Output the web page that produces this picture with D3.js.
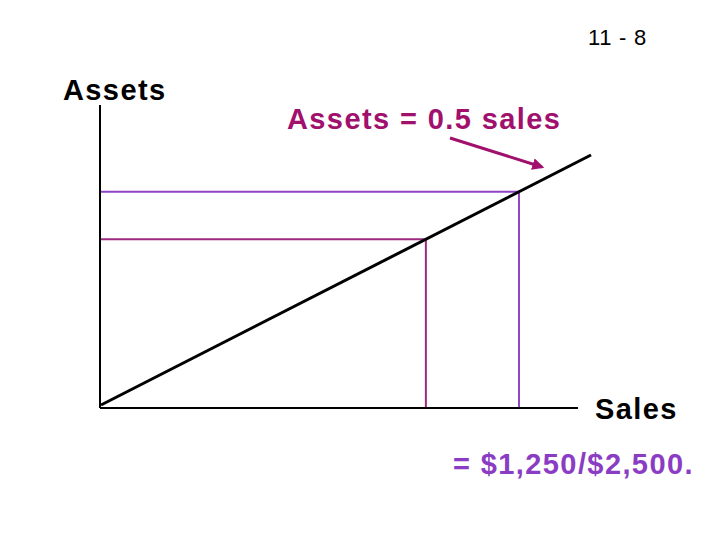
<!DOCTYPE html>
<html>
<head>
<meta charset="utf-8">
<script src="https://cdn.jsdelivr.net/npm/d3@7"></script>
<style>
  body { margin: 0; background: #fff; }
  text { font-family: "Liberation Sans", Arial, sans-serif; }
</style>
</head>
<body>
<div id="chart"></div>
<script>
// data : droite assets = 0.5 * sales, deux niveaux de ventes repérés
var salesLine = [0, 1000];
var salesMarks = [663, 853];
var markColors = ["#9c2a80", "#8e44c4"];
var ratio = 0.5;
var slideNumber = "11 - 8";
var labels = ["Assets", "Sales", "Assets = 0.5 sales", "= $1,250/$2,500."];

var width = 720, height = 540;

var svg = d3.select("#chart").append("svg")
    .attr("width", width)
    .attr("height", height);

var x = d3.scaleLinear().domain([0, 1000]).range([101, 591]);
var y = d3.scaleLinear().domain([0, 600]).range([405, 105]);

// axes
svg.append("line")
    .attr("x1", 100).attr("x2", 100)
    .attr("y1", y(600)).attr("y2", 408)
    .attr("stroke", "#000").attr("stroke-width", 2);
svg.append("line")
    .attr("x1", 100).attr("x2", 578)
    .attr("y1", 408).attr("y2", 408)
    .attr("stroke", "#000").attr("stroke-width", 2);

// repères horizontaux et verticaux
var marks = svg.append("g").selectAll("g")
    .data(salesMarks)
    .join("g");
marks.append("line")
    .attr("x1", 101).attr("x2", d => x(d))
    .attr("y1", d => y(d * ratio)).attr("y2", d => y(d * ratio))
    .attr("stroke", (d, i) => markColors[i]).attr("stroke-width", 2);
marks.append("line")
    .attr("x1", d => x(d)).attr("x2", d => x(d))
    .attr("y1", d => y(d * ratio)).attr("y2", 407)
    .attr("stroke", (d, i) => markColors[i]).attr("stroke-width", 2);

// droite
svg.append("path")
    .datum(salesLine)
    .attr("d", d3.line().x(d => x(d)).y(d => y(d * ratio)))
    .attr("stroke", "#000").attr("stroke-width", 3).attr("fill", "none");

// flèche
svg.append("defs").append("marker")
    .attr("id", "arrow")
    .attr("viewBox", "0 0 10 10")
    .attr("refX", 8).attr("refY", 5)
    .attr("markerWidth", 4).attr("markerHeight", 4)
    .attr("orient", "auto")
  .append("path")
    .attr("d", "M0,0 L10,5 L0,10 z")
    .attr("fill", "#a0106c");
svg.append("line")
    .attr("x1", 450).attr("y1", 138)
    .attr("x2", 542).attr("y2", 167)
    .attr("stroke", "#a0106c").attr("stroke-width", 3)
    .attr("marker-end", "url(#arrow)");

// textes
svg.append("text")
    .attr("x", 588).attr("y", 45)
    .attr("font-size", 22).attr("letter-spacing", 0.7)
    .text(slideNumber);
var big = [
  {t: labels[0], x: 63, y: 100, c: "#000"},
  {t: labels[1], x: 595, y: 419, c: "#000"},
  {t: labels[2], x: 287, y: 129, c: "#a0106c"},
  {t: labels[3], x: 453, y: 474, c: "#8b3cc4"}
];
svg.append("g").selectAll("text")
  .data(big)
  .join("text")
    .attr("x", d => d.x).attr("y", d => d.y)
    .attr("font-size", 29).attr("font-weight", "bold")
    .attr("letter-spacing", 1.4)
    .attr("fill", d => d.c)
    .text(d => d.t);
</script>
</body>
</html>
